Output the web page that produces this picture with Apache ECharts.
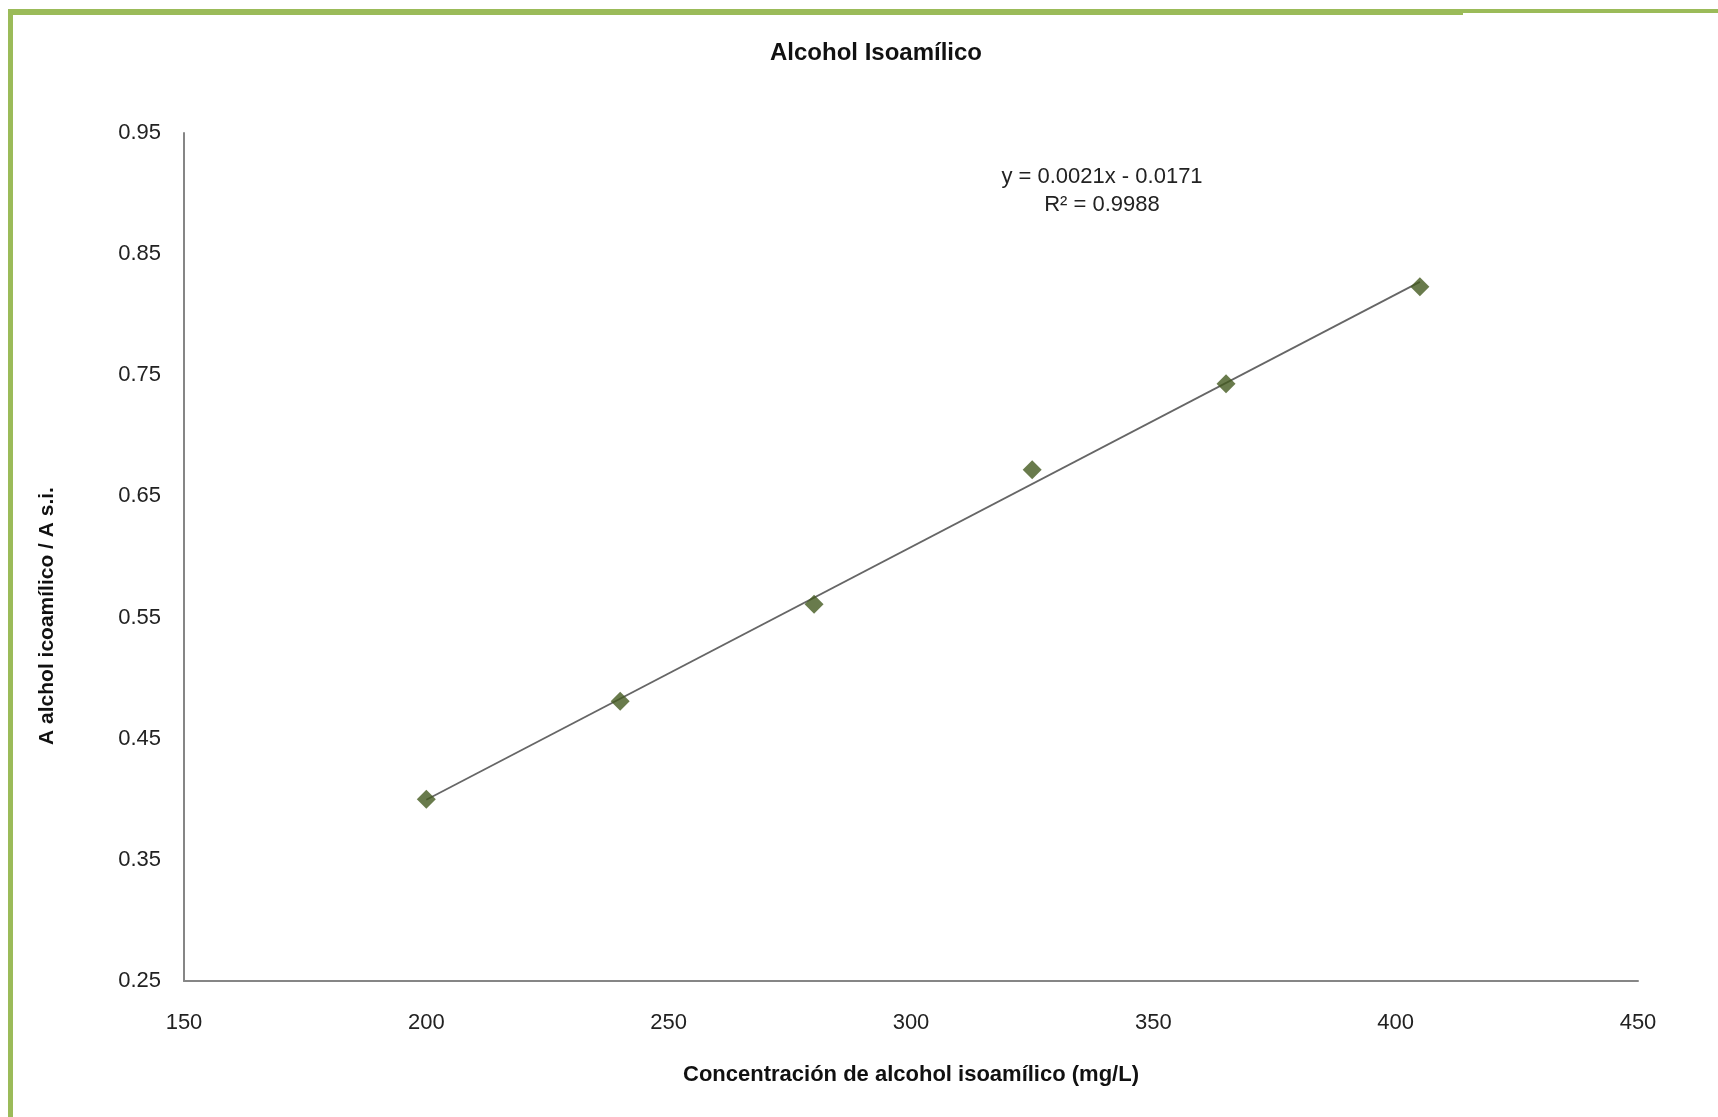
<!DOCTYPE html>
<html>
<head>
<meta charset="utf-8">
<script src="https://cdn.jsdelivr.net/npm/echarts@6/dist/echarts.min.js"></script>
<style>
  html, body { margin: 0; padding: 0; background: #ffffff; }
  #chart { width: 1718px; height: 1117px; }
</style>
</head>
<body>
<div id="chart"></div>
<script>
// Calibration standards: concentration (mg/L) and area ratio
const concentration = [200, 240, 280, 325, 365, 405];
const areaRatio = [0.400, 0.481, 0.561, 0.672, 0.743, 0.823];

const xTicks = [150, 200, 250, 300, 350, 400, 450];
const yTicks = [0.25, 0.35, 0.45, 0.55, 0.65, 0.75, 0.85, 0.95];

const equationText = 'y = 0.0021x - 0.0171';
const r2Text = 'R² = 0.9988';

// Least-squares linear fit through the standards
function linearFit(xs, ys) {
  const n = xs.length;
  const mx = xs.reduce((a, b) => a + b, 0) / n;
  const my = ys.reduce((a, b) => a + b, 0) / n;
  let sxy = 0, sxx = 0;
  for (let i = 0; i < n; i++) {
    sxy += (xs[i] - mx) * (ys[i] - my);
    sxx += (xs[i] - mx) * (xs[i] - mx);
  }
  const slope = sxy / sxx;
  return { slope, intercept: my - slope * mx };
}
const fit = linearFit(concentration, areaRatio);
const xMin = Math.min(...concentration);
const xMax = Math.max(...concentration);
const trend = [
  [xMin, fit.slope * xMin + fit.intercept],
  [xMax, fit.slope * xMax + fit.intercept]
];

const points = concentration.map((x, i) => [x, areaRatio[i]]);

const chart = echarts.init(document.getElementById('chart'));
const green = '#9bbb59';
const font = '"Liberation Sans", Arial, sans-serif';

chart.setOption({
  backgroundColor: '#ffffff',
  animation: false,
  title: {
    text: 'Alcohol Isoamílico',
    left: 871,
    top: 36,
    textAlign: 'center',
    textStyle: { fontFamily: font, fontSize: 24, fontWeight: 'bold', color: '#111' }
  },
  graphic: [
    { type: 'rect', shape: { x: 8, y: 9, width: 1455, height: 6 }, style: { fill: green } },
    { type: 'rect', shape: { x: 1463, y: 9, width: 255, height: 4 }, style: { fill: green } },
    { type: 'rect', shape: { x: 8, y: 9, width: 5, height: 1108 }, style: { fill: green } },
    {
      type: 'text', x: 1102, y: 166,
      style: { text: equationText, fontFamily: font, fontSize: 22, fill: '#222', align: 'center' }
    },
    {
      type: 'text', x: 1102, y: 194,
      style: { text: r2Text, fontFamily: font, fontSize: 22, fill: '#222', align: 'center' }
    },
    {
      type: 'text', x: 47, y: 616, rotation: Math.PI / 2,
      style: {
        text: 'A alchol icoamílico / A s.i.', fontFamily: font, fontSize: 21,
        fontWeight: 'bold', fill: '#111', align: 'center', verticalAlign: 'middle'
      }
    }
  ],
  grid: { left: 184, right: 80, top: 133, bottom: 136 },
  xAxis: {
    type: 'value',
    min: xTicks[0],
    max: xTicks[xTicks.length - 1],
    interval: xTicks[1] - xTicks[0],
    name: 'Concentración de alcohol isoamílico (mg/L)',
    nameLocation: 'middle',
    nameGap: 83,
    nameTextStyle: { fontFamily: font, fontSize: 22, fontWeight: 'bold', color: '#111' },
    axisLine: { show: true, lineStyle: { color: '#868686', width: 2 } },
    axisTick: { show: false },
    splitLine: { show: false },
    axisLabel: { fontFamily: font, fontSize: 22, color: '#222', margin: 31 }
  },
  yAxis: {
    type: 'value',
    min: yTicks[0],
    max: yTicks[yTicks.length - 1],
    interval: 0.1,
    axisLine: { show: true, lineStyle: { color: '#868686', width: 2 } },
    axisTick: { show: false },
    splitLine: { show: false },
    axisLabel: {
      fontFamily: font, fontSize: 22, color: '#222', margin: 23,
      formatter: v => v.toFixed(2)
    }
  },
  series: [
    {
      type: 'line',
      data: trend,
      showSymbol: false,
      lineStyle: { color: '#666666', width: 1.8 },
      z: 1
    },
    {
      type: 'scatter',
      data: points,
      symbol: 'diamond',
      symbolSize: 19,
      itemStyle: { color: '#435a1f' },
      z: 3
    }
  ]
});
</script>
</body>
</html>
